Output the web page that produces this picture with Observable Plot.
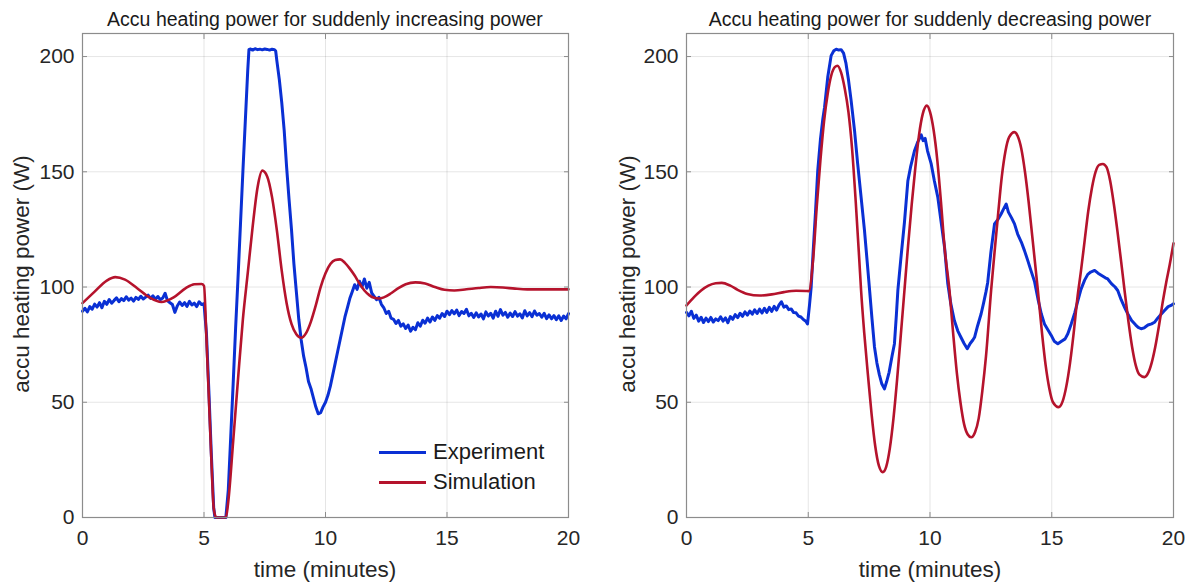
<!DOCTYPE html>
<html><head><meta charset="utf-8">
<script src="https://cdn.jsdelivr.net/npm/d3@7"></script>
<script src="https://cdn.jsdelivr.net/npm/@observablehq/plot@0.6"></script>
<style>
body{margin:0;background:#fff;font-family:"Liberation Sans",Arial,sans-serif;}
#wrap{position:relative;width:1196px;height:585px;overflow:hidden;background:#fff}
.panel{position:absolute;top:0}
.title{position:absolute;font-size:19.5px;line-height:19.5px;color:#1a1a1a;white-space:nowrap;transform:translateX(-50%)}
.xlab{position:absolute;font-size:22.5px;line-height:22.5px;color:#262626;transform:translate(-50%,-50%);white-space:nowrap}
.ylab{position:absolute;font-size:22.5px;line-height:22.5px;color:#262626;transform:translate(-50%,-50%) rotate(-90deg);white-space:nowrap}
.lgline{position:absolute;height:3px;width:47px}
.lgtext{position:absolute;font-size:22px;line-height:22px;color:#1a1a1a;white-space:nowrap}
</style>
</head><body>
<div id="wrap"></div>
<script>
// ---------- tick values ----------
const xTicks = [0, 5, 10, 15, 20];
const yTicks = [0, 50, 100, 150, 200];

// ---------- left panel: suddenly increasing power ----------
const expLeftTime = [
0.0,0.1,0.2,0.3,0.4,0.5,0.6,0.7,0.8,0.9,1.0,1.1,1.2,1.3,1.4,1.5,1.6,1.7,1.8,1.9,
2.0,2.1,2.2,2.3,2.4,2.5,2.6,2.7,2.8,2.9,3.0,3.1,3.2,3.3,3.4,3.5,3.6,3.7,3.8,3.9,
4.0,4.1,4.2,4.3,4.4,4.5,4.6,4.7,4.8,4.9,5.0,
5.1,5.2,5.3,5.4,5.45,5.9,6.0,6.1,6.2,6.3,6.4,6.5,6.6,6.7,6.8,6.85,
6.9,7.0,7.1,7.2,7.3,7.4,7.5,7.6,7.7,7.8,7.9,7.95,
8.0,8.1,8.2,8.3,8.4,8.5,8.6,8.7,8.8,8.9,
9.0,9.1,9.2,9.3,9.4,9.5,9.6,9.7,9.8,9.9,
10.0,10.1,10.2,10.3,10.4,10.5,10.6,10.7,10.8,10.9,
11.0,11.1,11.2,11.3,11.4,11.5,11.6,11.7,11.8,11.9,
12.0,12.1,12.2,12.3,12.4,12.5,12.6,12.7,12.8,12.9,
13.0,13.1,13.2,13.3,13.4,13.5,13.6,13.7,13.8,13.9,
14.0,14.1,14.2,14.3,14.4,14.5,14.6,14.7,14.8,14.9,
15.0,15.1,15.2,15.3,15.4,15.5,15.6,15.7,15.8,15.9,
16.0,16.1,16.2,16.3,16.4,16.5,16.6,16.7,16.8,16.9,
17.0,17.1,17.2,17.3,17.4,17.5,17.6,17.7,17.8,17.9,
18.0,18.1,18.2,18.3,18.4,18.5,18.6,18.7,18.8,18.9,
19.0,19.1,19.2,19.3,19.4,19.5,19.6,19.7,19.8,19.9,20.0];
const expLeftPower = [
89.5,90.8,89.2,91.5,90.4,92.6,91.3,93.2,91.0,93.8,92.5,94.6,93.0,94.2,95.3,93.6,95.0,94.1,95.8,94.3,
95.2,93.9,95.5,94.6,96.0,94.8,95.6,96.5,95.1,96.2,94.7,95.9,94.5,95.2,97.3,94.0,93.2,92.4,89.0,91.8,
93.5,92.0,93.2,91.6,93.8,92.2,93.0,91.5,93.6,92.4,92.8,
80,55,28,4,0,0,12,35,58,82,104,127,150,172,194,203,
203.3,202.8,203.4,203,203.2,202.9,203.3,203.1,202.8,203.2,203,202.4,
198,190,180,168,152,138,125,110,98,86,
77,70,65,59,56,52,48,45,45.5,48,
50,53,57,62,67,72,77,82,87,91,
95,98,101,99,102.5,100,103.5,99.5,102,97.5,
96,94.5,95.5,92.5,91,88.5,89.5,86.5,86,84.2,
85.5,83,84,82,83.5,80.8,82.5,81.5,84.5,83,
85.6,84.3,86.5,84.8,87,85.5,87.6,86.5,88.5,87.2,
89.5,88,89.8,88.4,90,87.6,89.4,88.5,90.3,87.5,
88.6,86.8,88.8,87,88.3,86.2,89.2,87.4,88.6,86.5,
89.5,87.3,90.2,87.8,89,86.9,88.7,87.2,89.3,87.4,
88.4,86.6,89.7,87.5,88.9,87.1,89.6,87.8,88.5,86.9,
88.6,86.3,87.9,86.2,87.6,85.8,87.5,85.5,87.4,86.2,88.5];

const simLeftTime = [0,0.5,1,1.35,1.75,2.25,2.75,3.25,3.75,4.25,4.6,4.9,5.0,5.1,5.2,5.3,5.4,5.5,5.9,
6.0,6.2,6.4,6.6,6.8,7.0,7.2,7.4,7.6,7.8,8.0,8.2,8.4,8.6,8.8,9.0,9.2,9.4,9.6,9.8,
10.0,10.2,10.4,10.6,10.8,11.0,11.2,11.4,11.6,11.8,12.0,12.2,12.4,12.7,13.0,13.3,13.7,
14.1,14.5,14.9,15.3,15.8,16.3,16.8,17.3,17.8,18.3,18.8,19.3,20];
const simLeftPower = [93,98,102.8,104.3,103.2,99.5,95.5,93.5,95.5,99.5,101.2,101.3,100.5,78,52,26,4,0,0,
7,33,60,86,106,126,143,150.5,148,139,124.5,107,93,84,79.5,78,80,85,92,100,
106,110,111.7,112,110.5,108,105,101.5,98.5,96.5,95.3,95,95.5,97.3,99.5,101.2,102,
101.5,100,98.8,98.5,99,99.6,100,99.8,99.3,99,99,99,99];

// ---------- right panel: suddenly decreasing power ----------
const expRightTime = [
0.0,0.1,0.2,0.3,0.4,0.5,0.6,0.7,0.8,0.9,1.0,1.1,1.2,1.3,1.4,1.5,1.6,1.7,1.8,1.9,
2.0,2.1,2.2,2.3,2.4,2.5,2.6,2.7,2.8,2.9,3.0,3.1,3.2,3.3,3.4,3.5,3.6,3.7,3.8,3.9,
4.0,4.1,4.2,4.3,4.4,4.5,4.6,4.7,4.8,4.9,4.97,
5.05,5.12,5.2,5.3,5.39,5.5,5.6,5.67,5.8,5.94,6.05,6.15,6.25,6.35,6.45,6.55,6.65,6.76,6.9,
7.03,7.17,7.31,7.42,7.52,7.62,7.72,7.82,7.92,8.02,8.13,8.22,8.32,8.44,8.54,8.62,8.68,8.8,8.95,
9.09,9.2,9.36,9.5,9.64,9.72,9.8,9.9,10.05,10.18,10.32,10.46,10.6,10.73,10.85,
11.0,11.14,11.28,11.4,11.53,11.65,11.76,11.83,11.95,12.1,12.2,12.3,12.37,12.5,12.65,12.8,12.92,
13.03,13.13,13.22,13.35,13.47,13.6,13.75,13.88,14.0,14.15,14.29,14.43,14.57,14.7,14.84,14.98,
15.1,15.25,15.4,15.55,15.66,15.8,15.95,16.07,16.2,16.35,16.48,16.6,16.76,16.9,
17.05,17.2,17.3,17.45,17.6,17.71,17.85,18.0,18.12,18.28,18.45,18.55,18.67,18.8,18.95,
19.1,19.22,19.35,19.5,19.63,19.78,19.9,20.0];
const expRightPower = [
89,87.5,89.5,86.4,87.8,85.2,86.9,84.6,86.5,85.0,86.8,84.8,86.2,85.4,87.1,85.2,86.6,84.5,87.2,86.0,
88.0,86.7,88.6,87.3,89.2,87.8,89.6,88.2,90.1,88.5,90.4,88.7,90.8,89.0,91.2,89.4,91.6,90.0,92.2,93.6,
91.3,91.8,90.2,90.5,88.9,88.8,87.4,87.0,85.9,85.2,84,
92,100,115,133,150.5,164,173,178,191,200.4,202.5,203.2,202.8,203,201.5,197,190,181,168,
153.4,139,124.5,111,98.5,86,74,67,62,58,55.8,59,63,70,75.4,88,98.5,112,128,
146,152,159,163,166,163.5,164.5,159,153.4,146,139,128,117,101.5,93,
85.5,81,78,75.5,73.2,75.5,77,78.2,83,88.4,93,98,102,115,127.4,129.5,131.7,
134,136,132.5,130,127.4,123,119.5,115.8,112,107,102.5,95,88.4,84,81.5,79,
76.5,75.4,76.5,77.5,79.7,84,89,94,99,103,105.5,106.5,107.2,106,
105,104,103.5,101.5,100,98.5,94.5,91,88.4,85.5,83.5,82.5,81.9,82.3,83.5,
84,84.7,86.5,88.3,89.8,91.5,92,92.7];

const simRightTime = [0,0.3,0.6,0.9,1.2,1.45,1.8,2.1,2.5,3.0,3.5,4.0,4.5,4.9,5.02,
5.2,5.35,5.5,5.65,5.8,5.95,6.1,6.2,6.35,6.5,6.65,6.8,6.95,7.1,7.17,7.3,7.45,7.6,7.75,7.9,8.06,
8.2,8.35,8.5,8.65,8.8,8.95,9.1,9.25,9.4,9.55,9.7,9.87,10.0,10.15,10.3,10.45,10.6,10.8,10.95,
11.1,11.25,11.4,11.55,11.69,11.85,12.0,12.15,12.3,12.51,12.65,12.8,12.95,13.1,13.25,13.47,
13.6,13.75,13.9,14.05,14.2,14.43,14.6,14.75,14.9,15.05,15.28,15.45,15.6,15.75,15.9,16.05,
16.2,16.35,16.5,16.65,16.8,16.95,17.1,17.25,17.4,17.55,17.7,17.85,17.99,18.15,18.3,18.45,
18.6,18.81,18.95,19.1,19.25,19.4,19.55,19.7,19.85,20];
const simRightPower = [92,95.5,98.5,100.6,101.6,101.8,100.6,98.8,97,96.3,96.8,97.8,98.4,98.3,98.2,
112,135,155,172,184,192,195.5,196,193,186,176,160,137,111,98.5,80,62,45,31,22.5,19.7,
22,30,43,60,79,98.5,118,136,152,166,175,178.7,176,168,155,137,117,98.5,80,
63,50,40.5,36,34.8,37,43,55,70,98.5,115,132,148,159,165,167.2,
165.5,160,150,137,122,98.5,80,66,56,50,47.9,50.5,57,67,80,95,
107,120,133,143,150,153,153.4,152,146,136,124,111,98.5,85,74,66,
62,60.9,62.5,67,74,83,93,102,110,119];

// ---------- styling constants ----------
const BLUE = "#0a30d4";
const RED = "#b5132c";
const FONT = '"Liberation Sans", Arial, sans-serif';

const toRows = (ts, vs) => ts.map((t, i) => ({t, v: vs[i]}));

function panel(expRows, simRows, ml, mr) {
  return Plot.plot({
    width: 596, height: 585,
    marginLeft: ml, marginRight: mr, marginTop: 33, marginBottom: 68,
    x: {domain: [0, 20]},
    y: {domain: [0, 210]},
    style: {fontFamily: FONT, fontSize: "21px", color: "#262626", background: "transparent", overflow: "visible"},
    marks: [
      Plot.gridX(xTicks, {stroke: "#000", strokeOpacity: 0.1}),
      Plot.gridY(yTicks, {stroke: "#000", strokeOpacity: 0.1}),
      Plot.line(expRows, {x: "t", y: "v", stroke: BLUE, strokeWidth: 3, strokeLinejoin: "round"}),
      Plot.line(simRows, {x: "t", y: "v", stroke: RED, strokeWidth: 2.6, curve: "monotone-x"}),
      Plot.frame({stroke: "#8c8c8c", strokeWidth: 1.2}),
      Plot.axisX(xTicks, {anchor: "bottom", tickSize: 0, tickPadding: 13, label: null, fill: "#262626"}),
      Plot.axisY(yTicks, {anchor: "left", tickSize: 0, tickPadding: 8, label: null, fill: "#262626"}),
      Plot.axisX(xTicks, {anchor: "bottom", tickSize: -5, tickFormat: () => "", label: null, stroke: "#8c8c8c"}),
      Plot.axisX(xTicks, {anchor: "top", tickSize: -5, tickFormat: () => "", label: null, stroke: "#8c8c8c"}),
      Plot.axisY(yTicks, {anchor: "left", tickSize: -5, tickFormat: () => "", label: null, stroke: "#8c8c8c"}),
      Plot.axisY(yTicks, {anchor: "right", tickSize: -5, tickFormat: () => "", label: null, stroke: "#8c8c8c"})
    ]
  });
}

const wrap = document.getElementById("wrap");
function place(node, left) {
  node.classList.add("panel");
  node.style.left = left + "px";
  wrap.appendChild(node);
}
place(panel(toRows(expLeftTime, expLeftPower), toRows(simLeftTime, simLeftPower), 82, 28), 0);
place(panel(toRows(expRightTime, expRightPower), toRows(simRightTime, simRightPower), 86, 23), 600);

function addDiv(cls, text, left, top, extra) {
  const d = document.createElement("div");
  d.className = cls;
  d.textContent = text;
  d.style.left = left + "px";
  d.style.top = top + "px";
  if (extra) Object.assign(d.style, extra);
  wrap.appendChild(d);
  return d;
}
addDiv("title", "Accu heating power for suddenly increasing power", 325, 10);
addDiv("title", "Accu heating power for suddenly decreasing power", 930, 10);
addDiv("xlab", "time (minutes)", 325, 570);
addDiv("xlab", "time (minutes)", 930, 570);
addDiv("ylab", "accu heating power (W)", 22, 274);
addDiv("ylab", "accu heating power (W)", 628, 274);

// legend
const legendNames = ["Experiment", "Simulation"];
const legendColors = [BLUE, RED];
legendNames.forEach((name, i) => {
  const y = 452 + i * 30;
  addDiv("lgline", "", 379, y - 1.5, {background: legendColors[i]});
  addDiv("lgtext", name, 433, y - 11);
});
</script>
</body></html>
